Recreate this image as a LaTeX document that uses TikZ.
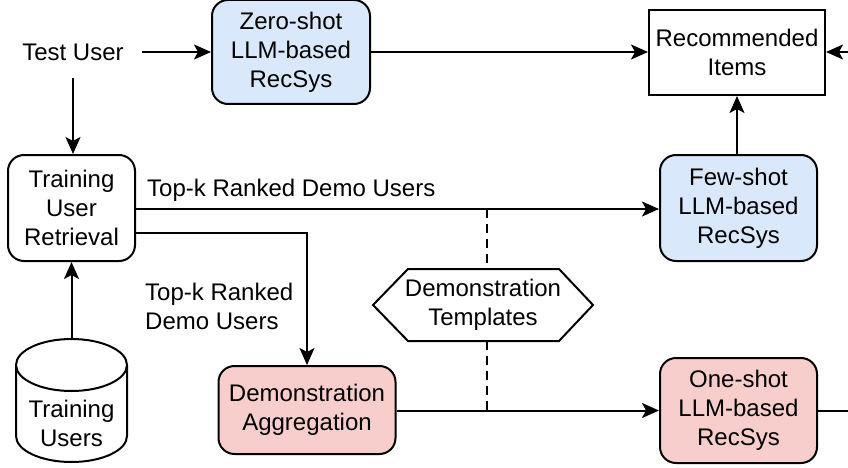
\documentclass[tikz,border=0pt]{standalone}
\usepackage{fontspec}
\setmainfont{Liberation Sans}
\usetikzlibrary{arrows.meta,calc}
\definecolor{bluefill}{HTML}{DAE8FC}
\definecolor{pinkfill}{HTML}{F8CECC}
\tikzset{
  every picture/.style={x=1pt,y=-1pt},
  txt/.style={font=\fontsize{24}{29}\selectfont, align=center, inner sep=0pt},
  proc/.style={txt, draw, line width=2pt, rounded corners=16pt},
  llmblue/.style={proc, fill=bluefill},
  llmpink/.style={proc, fill=pinkfill},
  plainbox/.style={txt, draw, line width=2pt},
  ghost/.style={inner sep=0pt, outer sep=0pt},
  conn/.style={line width=2pt, -{Stealth[length=17pt,width=15pt,inset=4pt]}},
  wire/.style={line width=2pt},
  dashwire/.style={line width=2pt, dash pattern=on 9pt off 6pt},
}
\begin{document}
\begin{tikzpicture}
\useasboundingbox (0,0) rectangle (848,468);

% main nodes
\node[txt, minimum width=138pt, minimum height=52pt] (test) at (73,52) {Test User};
\node[llmblue, minimum width=158pt, minimum height=104pt] (zero) at (291,52) {Zero-shot\\LLM-based\\RecSys};
\node[plainbox, minimum width=176pt, minimum height=85pt] (rec) at (737,52.5) {Recommended\\Items};
\node[proc, minimum width=127pt, minimum height=106pt] (train) at (71.5,208) {Training\\User\\Retrieval};
\node[llmblue, minimum width=157pt, minimum height=106pt] (few) at (738.5,208) {Few-shot\\LLM-based\\RecSys};
\node[llmpink, minimum width=177pt, minimum height=88pt] (agg) at (307,410) {Demonstration\\Aggregation};
\node[llmpink, minimum width=157pt, minimum height=105pt] (one) at (738.5,410.5) {One-shot\\LLM-based\\RecSys};

% template hexagon
\node[ghost, minimum width=220pt, minimum height=72pt] (tmpl) at (483,305) {};
\draw[wire, fill=white, line join=miter]
  (tmpl.west) -- ($(tmpl.north west)+(35,0)$) -- ($(tmpl.north east)+(-34,0)$)
  -- (tmpl.east) -- ($(tmpl.south east)+(-34,0)$) -- ($(tmpl.south west)+(35,0)$) -- cycle;
\node[txt] at (tmpl.center) {Demonstration\\Templates};

% training users database
\node[ghost, minimum width=111pt, minimum height=123pt] (db) at (71.5,400.5) {};
\draw[wire, fill=white]
  ($(db.north west)+(0,26)$) -- ($(db.south west)+(0,-26)$)
  arc[start angle=180, end angle=360, x radius=55.5, y radius=-26]
  -- ($(db.north east)+(0,26)$);
\draw[wire, fill=white] ($(db.north)+(0,26)$) ellipse[x radius=55.5, y radius=26];
\node[txt] at (71.5,423) {Training\\Users};

% free ends at the right border and on the wires
\coordinate (rin) at (848,52);
\coordinate (rout) at (848,410.5);
\coordinate (d1) at (487,209);
\coordinate (d2) at (487,410.5);

% connectors
\draw[conn] (test.east) -- (test.east -| zero.west);
\draw[conn] (zero.east) -- (zero.east -| rec.west);
\draw[conn] (rin) -- (rin -| rec.east);
\draw[conn] (test.south) -- (test.south |- train.north);
\draw[conn] (db.north) -- (db.north |- train.south);
\draw[conn] ([yshift=-1pt]train.east) -- ([yshift=-1pt]train.east -| few.west);
\draw[conn] ([yshift=-25pt]train.east) -| (agg.north);
\draw[conn] (few.north -| 737,0) -- (rec.south -| 737,0);
\draw[conn] (agg.east |- one.west) -- (one.west);
\draw[wire] (one.east) -- (rout);
\draw[dashwire] (d1) -- (d1 |- tmpl.north);
\draw[dashwire] (d2 |- tmpl.south) -- (d2);

% edge labels
\node[txt, anchor=west] at (147,190) {Top-k Ranked Demo Users};
\node[txt, anchor=west, align=left] at (145,306) {Top-k Ranked\\Demo Users};
\end{tikzpicture}
\end{document}
